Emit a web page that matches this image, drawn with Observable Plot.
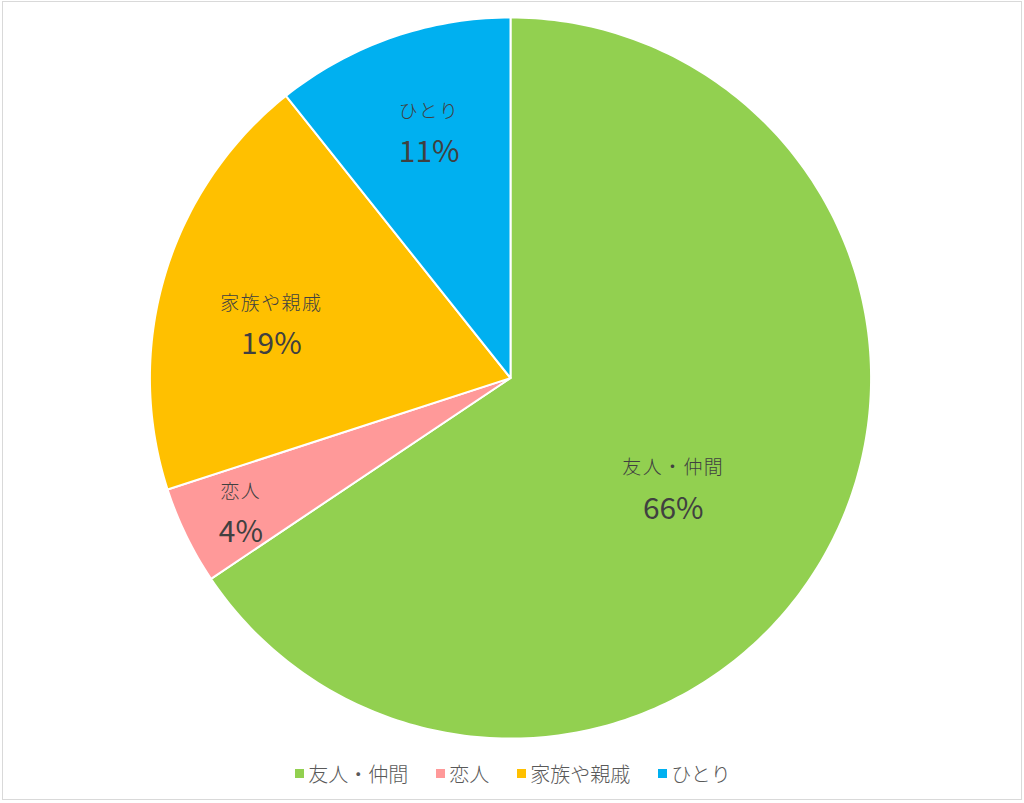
<!DOCTYPE html>
<html>
<head>
<meta charset="utf-8">
<script src="https://cdn.jsdelivr.net/npm/d3@7"></script>
<script src="https://cdn.jsdelivr.net/npm/@observablehq/plot@0.6"></script>
<style>
  html, body { margin: 0; padding: 0; background: #fff; }
  #frame { position: relative; width: 1020px; height: 799px; margin: 1px 0 0 2px; border: 1px solid #d9d9d9; box-sizing: border-box; overflow: hidden; }
  #chart { position: absolute; left: -2px; top: -1px; }
  #legend { position: absolute; left: -2px; top: 757px; width: 1024px; display: flex; justify-content: center; align-items: center; font-family: "Noto Sans CJK JP", sans-serif; font-size: 20px; font-weight: 300; color: #595959; }
  .item { display: flex; align-items: center; margin: 0 14px; }
  .sw { width: 9px; height: 9px; margin-right: 4px; }
  #chart svg .catlabel text { letter-spacing: 1.5px; }
</style>
</head>
<body>
<div id="frame"><div id="chart"></div><div id="legend"></div></div>
<script>
const categories = ["友人・仲間", "恋人", "家族や親戚", "ひとり"];
const shares = [65.6, 4.4, 19.3, 10.7];
const colors = ["#92D050", "#FF9999", "#FFC000", "#00B0F0"];

// label placement (radius fraction and angle nudge, in degrees) — styling only
const labelPlace = {"友人・仲間": [0.545, 6], "恋人": [0.835, -0.5], "家族や親戚": [0.68, -4], "ひとり": [0.72, 1]};

const total = d3.sum(shares);
const rows = [];
const labels = [];
let acc = 0;
categories.forEach((c, i) => {
  const a0 = acc / total * 2 * Math.PI;
  acc += shares[i];
  const a1 = acc / total * 2 * Math.PI;
  const n = Math.max(2, Math.ceil((a1 - a0) / (Math.PI / 180)));
  rows.push({cat: c, x: 0, y: 0, k: -1});
  for (let j = 0; j <= n; j++) {
    const a = a0 + (a1 - a0) * j / n;
    rows.push({cat: c, x: Math.sin(a), y: Math.cos(a), k: j});
  }
  const [rf, da] = labelPlace[c];
  const am = (a0 + a1) / 2 + da * Math.PI / 180;
  labels.push({cat: c, pct: d3.format(".0f")(shares[i]) + "%", x: rf * Math.sin(am), y: rf * Math.cos(am)});
});

const plot = Plot.plot({
  width: 1024,
  height: 750,
  marginLeft: 149,
  marginRight: 151,
  marginTop: 16,
  marginBottom: 10,
  x: {domain: [-1, 1], axis: null},
  y: {domain: [-1, 1], axis: null},
  color: {domain: categories, range: colors},
  style: {fontFamily: "'Noto Sans CJK JP', sans-serif", background: "transparent"},
  marks: [
    Plot.line(rows, {x: "x", y: "y", z: "cat", fill: "cat", stroke: "white", strokeWidth: 2, curve: "linear-closed"}),
    Plot.text(labels, {x: "x", y: "y", text: "cat", dy: -20, fontSize: 19, fontWeight: 300, fill: "#404040", className: "catlabel"}),
    Plot.text(labels, {x: "x", y: "y", text: "pct", dy: 21, fontSize: 30, fill: "#404040"})
  ]
});
document.getElementById("chart").appendChild(plot);

const legend = document.getElementById("legend");
categories.forEach((c, i) => {
  const it = document.createElement("div");
  it.className = "item";
  it.innerHTML = `<span class="sw" style="background:${colors[i]}"></span><span>${c}</span>`;
  legend.appendChild(it);
});
</script>
</body>
</html>
